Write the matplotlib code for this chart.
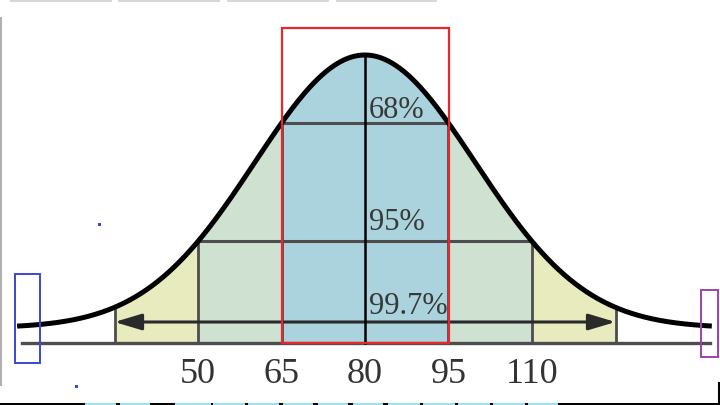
import numpy as np
import matplotlib
matplotlib.use("Agg")
import matplotlib.pyplot as plt
from matplotlib.patches import Rectangle

# data
mean = 80
sd = 15
tick_values = [50, 65, 80, 95, 110]
band_labels = ["68%", "95%", "99.7%"]
band_sds = [1, 2, 3]
band_colors = ["#abd3dd", "#cfe1d1", "#e7ebbd"]
# shape of the drawn bell (heights in picture units)
peak_height = 288
tail_height = 15
shape_width = 1.32
x_start, x_end = 17.5, 142.3

def curve(x):
    z = (x - mean) / sd
    return tail_height + (peak_height - tail_height) * np.exp(-z ** 2 / (2 * shape_width ** 2))

fig = plt.figure(figsize=(7.2, 4.05), dpi=100)
ax = fig.add_axes([0, 0, 1, 1])
px = sd / 83.5
ax.set_xlim(mean - 365 * px, mean + 355 * px)
ax.set_ylim(-62, 343)
ax.axis("off")

# shaded bands, widest first
for k, col in zip(band_sds[::-1], band_colors[::-1]):
    xs = np.linspace(mean - k * sd, mean + k * sd, 300)
    ax.fill_between(xs, 0, curve(xs), color=col, lw=0, zorder=1)

line_col = "#4d4d4d"
# vertical dividers
for k in band_sds:
    for x in (mean - k * sd, mean + k * sd):
        ax.plot([x, x], [0, curve(x)], color=line_col, lw=2.0, zorder=2)
# horizontal lines at 1 and 2 sd
for k in band_sds[:2]:
    h = curve(mean + k * sd)
    ax.plot([mean - k * sd, mean + k * sd], [h, h], color=line_col, lw=2.2, zorder=2)
# 99.7% arrow
ax.annotate("", xy=(mean - 3 * sd, 21), xytext=(mean + 3 * sd, 21),
            arrowprops=dict(arrowstyle="<|-|>,head_length=0.4,head_width=0.12",
                            mutation_scale=41, color="#2a2a2a", lw=2.2,
                            shrinkA=0, shrinkB=0), zorder=3)
# baseline
ax.plot([x_start + 0.8, x_end - 0.3], [0, 0], color=line_col, lw=2.4, zorder=2)
# centre line
ax.plot([mean, mean], [0, curve(mean)], color="black", lw=1.8, zorder=3)
# curve
xs = np.linspace(x_start, x_end, 500)
ax.plot(xs, curve(xs), color="black", lw=3.6, zorder=4, solid_capstyle="butt")

# labels
label_y = [225, 113, 29]
for lab, y in zip(band_labels, label_y):
    ax.text(mean + 4 * px, y, lab, fontsize=22, family="Liberation Serif",
            color="#383838", va="baseline", ha="left", zorder=5)
for t in tick_values:
    ax.text(t, -40, str(t), fontsize=26, family="Liberation Serif",
            color="#333333", va="baseline", ha="center")

# red highlight box round the middle band
ax.add_patch(Rectangle((mean - sd, 0), 2 * sd, 315, fill=False,
                       edgecolor="#e8262b", lw=1.6, zorder=6))

# screenshot markings, in pixels
ov = fig.add_axes([0, 0, 1, 1])
ov.set_xlim(0, 720)
ov.set_ylim(405, 0)
ov.axis("off")
ov.patch.set_alpha(0)
ov.add_patch(Rectangle((15, 274), 25, 89, fill=False, edgecolor="#3b46d6", lw=1.4))
ov.add_patch(Rectangle((701, 290), 17, 67, fill=False, edgecolor="#a040b0", lw=1.4))
ov.add_patch(Rectangle((97.5, 222.5), 3, 3, color="#3b46d6", lw=0))
ov.add_patch(Rectangle((74.5, 384.5), 3, 3, color="#3b46d6", lw=0))
ov.plot([1, 1], [18, 385], color="#b0b0b0", lw=1.5)
ov.plot([719, 719], [383, 405], color="black", lw=1.5)
for x0, x1 in [(10, 112), (118, 220), (227, 329), (336, 437)]:
    ov.add_patch(Rectangle((x0, 0), x1 - x0, 2, color="#d8d8d8", lw=0))
ov.add_patch(Rectangle((0, 402.5), 720, 3, color="black", lw=0))
for x0, x1 in [(85, 116), (120, 150), (175, 211), (213, 245), (248, 279), (283, 313),
               (318, 348), (353, 383), (388, 420), (423, 455), (458, 490), (493, 525), (528, 558)]:
    ov.add_patch(Rectangle((x0, 403), x1 - x0, 2, color="#9be3ec", lw=0))

fig.savefig("out.png", dpi=100)
